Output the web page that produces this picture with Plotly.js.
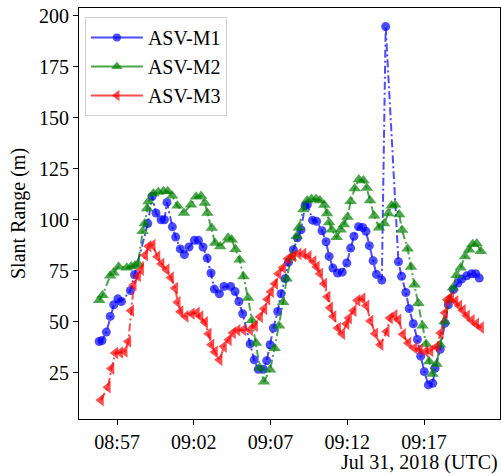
<!DOCTYPE html>
<html>
<head>
<meta charset="utf-8">
<script src="https://cdn.plot.ly/plotly-3.0.1.min.js"></script>
<style>html,body{margin:0;padding:0;background:#fff}#chart{width:501px;height:476px}</style>
</head>
<body>
<div id="chart"></div>
<script>
const day = '2018-07-31 ';
const m1Time = ['08:55:50','08:56:01','08:56:18','08:56:33','08:56:47','08:57:03','08:57:17','08:57:52','08:58:08','08:59:00','08:59:17','08:59:32','08:59:52','09:00:05','09:00:15','09:00:36','09:00:49','09:01:07','09:01:23','09:01:41','09:02:02','09:02:18','09:02:36','09:02:52','09:03:07','09:03:20','09:03:40','09:03:58','09:04:24','09:04:41','09:04:56','09:05:11','09:05:40','09:05:56','09:06:12','09:06:32','09:06:45','09:06:58','09:07:11','09:07:28','09:07:41','09:07:57','09:08:10','09:08:29','09:08:45','09:08:59','09:09:15','09:09:24','09:09:44','09:10:00','09:10:21','09:10:37','09:10:49','09:11:04','09:11:22','09:11:40','09:11:58','09:12:13','09:12:26','09:12:44','09:13:00','09:13:13','09:13:26','09:13:41','09:13:54','09:14:15','09:14:30','09:15:20','09:15:32','09:15:49','09:16:02','09:16:18','09:16:34','09:16:47','09:17:01','09:17:17','09:17:34','09:17:43','09:18:03','09:18:22','09:18:35','09:18:55','09:19:12','09:19:27','09:19:47','09:20:06','09:20:22','09:20:36'];
const m1Range = [40.4,40.9,45.0,52.7,58.4,61.3,60.0,65.4,73.1,98.2,111.6,103.4,100.1,100.1,108.6,96.6,91.6,85.8,83.0,86.7,90.0,90.0,86.7,81.3,74.0,66.1,63.8,67.4,67.4,64.9,60.0,54.0,39.2,31.4,26.8,26.8,31.0,38.8,47.0,55.1,63.8,71.2,79.2,85.4,91.2,95.2,107.0,107.5,99.9,99.3,94.7,89.3,82.1,76.4,74.0,74.4,78.9,86.2,92.0,96.7,96.3,94.4,87.4,80.0,73.3,70.5,194.8,79.5,72.4,64.4,56.5,49.1,41.4,33.2,25.6,19.1,19.9,27.3,36.6,49.4,58.4,65.8,69.1,71.0,72.6,73.6,73.6,71.5];

const m2Time = ['08:55:50','08:56:03','08:56:33','08:56:46','08:57:06','08:57:38','08:57:55','08:58:10','08:58:22','08:58:40','08:58:48','08:58:57','08:59:03','08:59:22','08:59:41','09:00:01','09:00:18','09:00:35','09:00:56','09:01:21','09:01:49','09:02:09','09:02:28','09:02:43','09:02:53','09:03:10','09:03:23','09:03:43','09:04:14','09:04:28','09:04:43','09:04:59','09:05:14','09:05:32','09:05:47','09:06:03','09:06:18','09:06:34','09:06:58','09:07:16','09:07:33','09:07:49','09:08:03','09:08:20','09:08:42','09:08:50','09:09:08','09:09:23','09:09:40','09:09:58','09:10:13','09:10:30','09:10:41','09:10:49','09:10:59','09:11:18','09:11:34','09:11:47','09:12:01','09:12:13','09:12:29','09:12:45','09:13:03','09:13:16','09:13:29','09:13:45','09:14:04','09:14:24','09:14:40','09:14:53','09:15:07','09:15:23','09:15:34','09:15:56','09:16:09','09:16:23','09:16:38','09:16:54','09:17:08','09:17:20','09:17:33','09:17:49','09:18:03','09:18:20','09:18:40','09:18:53','09:19:07','09:19:23','09:19:40','09:19:56','09:20:10','09:20:26','09:20:42'];
const m2Range = [60.6,63.1,72.6,74.1,77.1,76.6,77.2,77.6,78.5,94.4,98.2,105.6,109.0,112.9,113.7,114.0,114.0,111.9,107.0,103.4,107.5,111.4,111.7,108.3,103.4,96.1,88.7,87.0,91.2,90.3,85.6,80.5,72.3,61.7,50.8,39.6,27.5,20.7,26.5,37.1,48.1,59.6,71.2,81.5,92.0,96.2,105.1,109.5,110.3,110.2,109.5,107.3,103.1,98.7,95.2,91.5,95.2,97.7,101.4,109.1,115.4,119.8,119.3,115.7,109.5,102.0,96.2,98.2,103.1,107.0,107.5,102.6,95.0,85.9,76.9,68.2,59.2,48.1,39.2,30.6,24.5,29.4,38.8,50.2,60.9,66.7,72.9,76.6,82.1,85.4,88.1,88.4,84.6];

const m3Time = ['08:55:57','08:56:24','08:56:38','08:56:53','08:57:12','08:57:30','08:57:44','08:57:55','08:58:05','08:58:22','08:58:34','08:58:50','08:59:03','08:59:19','08:59:38','08:59:54','09:00:14','09:00:31','09:00:47','09:00:57','09:01:08','09:01:28','09:01:52','09:02:12','09:02:26','09:02:44','09:02:58','09:03:09','09:03:23','09:03:41','09:03:58','09:04:17','09:04:33','09:04:51','09:05:14','09:05:40','09:05:59','09:06:19','09:06:36','09:06:48','09:07:02','09:07:18','09:07:31','09:07:49','09:08:08','09:08:29','09:08:50','09:09:09','09:09:29','09:09:48','09:10:01','09:10:14','09:10:30','09:10:43','09:10:53','09:11:06','09:11:24','09:11:40','09:11:57','09:12:07','09:12:25','09:12:40','09:13:00','09:13:15','09:13:31','09:13:49','09:14:10','09:14:34','09:14:47','09:15:05','09:15:20','09:15:38','09:15:59','09:16:23','09:16:44','09:17:07','09:17:25','09:17:49','09:18:05','09:18:22','09:18:31','09:18:46','09:19:03','09:19:18','09:19:32','09:19:48','09:20:07','09:20:24','09:20:43'];
const m3Range = [11.7,18.0,27.1,34.8,35.0,35.5,40.4,55.5,68.0,72.5,75.6,82.7,87.1,87.6,82.0,78.5,75.6,71.7,66.6,59.6,55.0,52.7,54.0,54.5,52.7,49.8,44.2,38.8,35.3,31.4,37.9,41.2,44.6,45.9,46.1,46.1,48.1,52.5,56.4,61.1,64.8,68.7,73.6,76.6,81.0,82.2,83.4,83.4,82.1,79.6,76.9,73.6,68.7,62.3,56.9,52.7,47.0,44.2,49.1,51.9,55.5,60.6,61.4,57.9,50.5,44.2,38.8,45.3,51.9,53.2,51.0,43.9,39.6,37.1,36.4,35.5,35.8,37.8,44.6,54.5,60.9,62.1,60.1,57.9,55.7,53.0,50.8,49.0,47.2];

const seriesNames = ['ASV-M1','ASV-M2','ASV-M3'];
const xTickTimes = ['08:57','09:02','09:07','09:12','09:17'];
const yTickVals = [25,50,75,100,125,150,175,200];

const serif = '"Liberation Serif", "Times New Roman", serif';
const dash = '8px,3px,2px,3px';
const colors = ['rgba(0,0,255,0.7)', 'rgba(0,128,0,0.7)', 'rgba(255,0,0,0.7)'];
const symbols = ['circle', 'triangle-up', 'triangle-left'];
const sizes = [9, 11, 11];

function mk(times, vals, i) {
  return {
    type: 'scatter', mode: 'lines+markers', name: seriesNames[i], showlegend: false,
    x: times.map(t => day + t), y: vals,
    line: {color: colors[i], width: 2, dash: dash},
    marker: {color: colors[i], symbol: symbols[i], size: sizes[i], line: {width: 0}}
  };
}
function legendEntry(i) {
  return {
    type: 'scatter', mode: 'lines+markers', name: seriesNames[i], showlegend: true,
    x: [null], y: [null],
    line: {color: colors[i], width: 2},
    marker: {color: colors[i], symbol: symbols[i], size: sizes[i] - 1, line: {width: 0}}
  };
}

const data = [
  mk(m1Time, m1Range, 0),
  mk(m2Time, m2Range, 1),
  mk(m3Time, m3Range, 2),
  legendEntry(0), legendEntry(1), legendEntry(2)
];

const layout = {
  width: 501, height: 476,
  margin: {l: 79, r: 1, t: 8, b: 57},
  paper_bgcolor: '#fff', plot_bgcolor: '#fff',
  font: {family: serif, size: 20, color: '#000'},
  showlegend: true,
  legend: {x: 0.014, y: 0.978, xanchor: 'left', yanchor: 'top',
    bgcolor: 'rgba(255,255,255,0.9)', bordercolor: '#d0d0d0', borderwidth: 1,
    font: {family: serif, size: 20, color: '#000'}, itemwidth: 52, tracegroupgap: 0},
  xaxis: {
    type: 'date',
    range: [day + '08:54:31', day + '09:21:57'],
    tickvals: xTickTimes.map(t => day + t + ':00'),
    ticktext: xTickTimes,
    ticks: 'outside', ticklen: 5, tickwidth: 1, tickcolor: '#000',
    showline: true, linecolor: '#000', linewidth: 1, mirror: true,
    showgrid: false, zeroline: false,
    tickfont: {family: serif, size: 20, color: '#000'}
  },
  yaxis: {
    range: [2.4, 203.9],
    tickvals: yTickVals,
    ticks: 'outside', ticklen: 5, tickwidth: 1, tickcolor: '#000',
    showline: true, linecolor: '#000', linewidth: 1, mirror: true,
    showgrid: false, zeroline: false,
    tickfont: {family: serif, size: 20, color: '#000'},
    title: {text: 'Slant Range (m)', font: {family: serif, size: 20, color: '#000'}, standoff: 8}
  },
  annotations: [{
    text: 'Jul 31, 2018 (UTC)', xref: 'paper', yref: 'paper',
    x: 1, y: -0.105, xanchor: 'right', yanchor: 'middle', showarrow: false,
    font: {family: serif, size: 20, color: '#000'}
  }]
};

Plotly.newPlot('chart', data, layout, {displayModeBar: false, staticPlot: true});
</script>
</body>
</html>
